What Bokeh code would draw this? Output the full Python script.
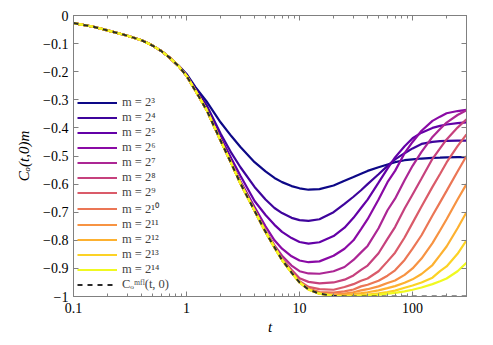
from bokeh.plotting import figure
from bokeh.models import (Range1d, LinearAxis, LogAxis, FixedTicker,
                          CustomJSTickFormatter, Legend, LegendItem)
from bokeh.embed import file_html
from bokeh.resources import INLINE

# ---------------- data ----------------
t = [0.1, 0.15, 0.2, 0.3, 0.4, 0.5, 0.6, 0.7, 0.85, 1, 1.2, 1.5, 2, 2.5, 3, 4, 5, 6, 7, 8.5, 10,
     12, 15, 20, 25, 30, 35, 40, 50, 60, 70, 85, 100, 120, 150, 175, 200, 250, 300]

m_2_3 = [-0.027, -0.040, -0.053, -0.072, -0.088, -0.107, -0.127, -0.148, -0.178,
         -0.208, -0.255, -0.305, -0.380, -0.430, -0.468, -0.522, -0.555, -0.578, -0.593, -0.607, -0.615,
         -0.620, -0.618, -0.605, -0.588, -0.575, -0.563, -0.553, -0.540, -0.530, -0.522, -0.515,
         -0.512, -0.509, -0.507, -0.506, -0.505, -0.504, -0.504]
m_2_4 = [-0.027, -0.040, -0.053, -0.072, -0.088, -0.107, -0.127, -0.148, -0.179,
         -0.212, -0.262, -0.318, -0.420, -0.490, -0.540, -0.610, -0.655, -0.685, -0.703, -0.720, -0.728,
         -0.731, -0.725, -0.700, -0.670, -0.645, -0.622, -0.600, -0.565, -0.535, -0.512, -0.490,
         -0.473, -0.457, -0.450, -0.447, -0.446, -0.445, -0.445]
m_2_5 = [-0.027, -0.040, -0.053, -0.072, -0.088, -0.107, -0.127, -0.148, -0.180,
         -0.214, -0.265, -0.330, -0.433, -0.510, -0.570, -0.660, -0.710, -0.745, -0.770, -0.792, -0.806,
         -0.812, -0.807, -0.785, -0.755, -0.720, -0.685, -0.655, -0.595, -0.545, -0.505, -0.465,
         -0.437, -0.417, -0.400, -0.393, -0.388, -0.383, -0.380]
m_2_6 = [-0.027, -0.040, -0.053, -0.072, -0.088, -0.107, -0.127, -0.148, -0.180,
         -0.215, -0.267, -0.335, -0.442, -0.525, -0.590, -0.682, -0.750, -0.800, -0.830, -0.857, -0.872,
         -0.878, -0.875, -0.855, -0.830, -0.800, -0.760, -0.725, -0.655, -0.593, -0.553, -0.490,
         -0.450, -0.410, -0.375, -0.360, -0.348, -0.340, -0.336]
m_2_7 = [-0.027, -0.040, -0.053, -0.072, -0.088, -0.107, -0.127, -0.148, -0.180,
         -0.215, -0.268, -0.335, -0.445, -0.527, -0.595, -0.690, -0.765, -0.818, -0.855, -0.890, -0.910,
         -0.918, -0.919, -0.910, -0.895, -0.870, -0.843, -0.820, -0.757, -0.693, -0.652, -0.586,
         -0.535, -0.485, -0.432, -0.404, -0.381, -0.354, -0.337]
m_2_8 = [-0.027, -0.040, -0.053, -0.072, -0.088, -0.107, -0.127, -0.148, -0.180,
         -0.215, -0.268, -0.335, -0.445, -0.528, -0.597, -0.694, -0.769, -0.823, -0.866, -0.905, -0.935,
         -0.948, -0.953, -0.950, -0.940, -0.925, -0.905, -0.890, -0.846, -0.795, -0.753, -0.687,
         -0.637, -0.580, -0.510, -0.473, -0.441, -0.399, -0.369]
m_2_9 = [-0.027, -0.040, -0.053, -0.072, -0.088, -0.107, -0.127, -0.148, -0.180,
         -0.215, -0.268, -0.335, -0.445, -0.528, -0.598, -0.695, -0.770, -0.825, -0.869, -0.912, -0.945,
         -0.966, -0.974, -0.976, -0.966, -0.956, -0.944, -0.936, -0.910, -0.875, -0.844, -0.790,
         -0.738, -0.680, -0.610, -0.564, -0.523, -0.465, -0.423]
m_2_10 = [-0.027, -0.040, -0.053, -0.072, -0.088, -0.107, -0.127, -0.148, -0.180,
          -0.215, -0.268, -0.335, -0.445, -0.528, -0.598, -0.695, -0.770, -0.825, -0.870, -0.915, -0.949,
          -0.972, -0.984, -0.986, -0.982, -0.975, -0.964, -0.958, -0.944, -0.926, -0.907, -0.870,
          -0.830, -0.782, -0.712, -0.665, -0.624, -0.555, -0.500]
m_2_11 = [-0.027, -0.040, -0.053, -0.072, -0.088, -0.107, -0.127, -0.148, -0.180,
          -0.215, -0.268, -0.335, -0.445, -0.528, -0.598, -0.695, -0.770, -0.825, -0.870, -0.915, -0.950,
          -0.975, -0.990, -0.993, -0.990, -0.985, -0.978, -0.974, -0.964, -0.952, -0.943, -0.923,
          -0.900, -0.865, -0.810, -0.765, -0.725, -0.655, -0.600]
m_2_12 = [-0.027, -0.040, -0.053, -0.072, -0.088, -0.107, -0.127, -0.148, -0.180,
          -0.215, -0.268, -0.335, -0.445, -0.528, -0.598, -0.695, -0.770, -0.825, -0.870, -0.915, -0.950,
          -0.975, -0.990, -0.997, -0.995, -0.991, -0.988, -0.985, -0.978, -0.970, -0.963, -0.951,
          -0.939, -0.920, -0.888, -0.853, -0.822, -0.757, -0.700]
m_2_13 = [-0.027, -0.040, -0.053, -0.072, -0.088, -0.107, -0.127, -0.148, -0.180,
          -0.215, -0.268, -0.335, -0.445, -0.528, -0.598, -0.695, -0.770, -0.825, -0.870, -0.915, -0.950,
          -0.975, -0.990, -0.998, -0.999, -0.997, -0.995, -0.993, -0.989, -0.984, -0.979, -0.969,
          -0.961, -0.950, -0.933, -0.910, -0.893, -0.848, -0.800]
m_2_14 = [-0.027, -0.040, -0.053, -0.072, -0.088, -0.107, -0.127, -0.148, -0.180,
          -0.215, -0.268, -0.335, -0.445, -0.528, -0.598, -0.695, -0.770, -0.825, -0.870, -0.915, -0.950,
          -0.975, -0.990, -0.998, -1.000, -0.999, -0.998, -0.997, -0.994, -0.990, -0.987, -0.982,
          -0.976, -0.968, -0.956, -0.946, -0.936, -0.910, -0.880]
c_mfl = [-0.027, -0.040, -0.053, -0.072, -0.088, -0.107, -0.127, -0.148, -0.180,
         -0.215, -0.268, -0.335, -0.445, -0.528, -0.598, -0.695, -0.770, -0.825, -0.870, -0.915, -0.950,
         -0.975, -0.990, -0.998, -1.000, -1.000, -1.000, -1.000, -1.000, -1.000, -1.000, -1.000,
         -1.000, -1.000, -1.000, -1.000, -1.000, -1.000, -1.000]

series = [m_2_3, m_2_4, m_2_5, m_2_6, m_2_7, m_2_8, m_2_9, m_2_10, m_2_11, m_2_12, m_2_13, m_2_14]
labels = ["m = 2³", "m = 2⁴", "m = 2⁵", "m = 2⁶", "m = 2⁷", "m = 2⁸", "m = 2⁹",
          "m = 2¹⁰", "m = 2¹¹", "m = 2¹²", "m = 2¹³", "m = 2¹⁴"]
mfl_label = "Cₒᵐᶠˡ(t, 0)"

x_ticks = [0.1, 1, 10, 100]
x_minor = [0.2, 0.3, 0.4, 0.5, 0.6, 0.7, 0.8, 0.9, 2, 3, 4, 5, 6, 7, 8, 9,
           20, 30, 40, 50, 60, 70, 80, 90, 200, 300]
y_ticks = [0, -0.1, -0.2, -0.3, -0.4, -0.5, -0.6, -0.7, -0.8, -0.9, -1.0]

# ---------------- styles ----------------
colors = ["#0d0887", "#3e049c", "#6300a7", "#8a0aa5", "#ac2694", "#c6417d",
          "#da5b69", "#eb7655", "#f79342", "#fdb130", "#fcd225", "#f0f921"]
FONT = "Liberation Serif"
GRAY = "#808080"

p = figure(width=485, height=337, x_axis_type="log",
           x_range=Range1d(0.1, 300), y_range=Range1d(-1.0, 0.0),
           output_backend="svg", toolbar_location=None,
           min_border_left=73, min_border_right=19, min_border_top=15, min_border_bottom=41)
p.xgrid.visible = False
p.ygrid.visible = False
p.outline_line_color = GRAY
p.outline_line_width = 1
p.background_fill_color = "white"
p.border_fill_color = "white"

xt = FixedTicker(ticks=x_ticks, minor_ticks=x_minor)
yt = FixedTicker(ticks=y_ticks, minor_ticks=[])
xfmt = CustomJSTickFormatter(code="return tick.toString();")
yfmt = CustomJSTickFormatter(code="""
if (Math.abs(tick) < 1e-9) return "0";
let s = Math.abs(tick).toFixed(1);
if (s.endsWith(".0")) s = s.slice(0, -2);
return "\\u2212" + s;
""")
empty = CustomJSTickFormatter(code="return '';")

def style_axis(ax, show_labels):
    ax.axis_line_color = GRAY
    ax.major_tick_line_color = GRAY
    ax.minor_tick_line_color = GRAY
    ax.major_tick_in = 5
    ax.major_tick_out = 0
    ax.minor_tick_in = 3
    ax.minor_tick_out = 0
    ax.major_label_text_font = FONT
    ax.major_label_text_font_size = "14px" if show_labels else "0px"
    ax.major_label_text_color = "black"
    ax.axis_label_text_font = FONT
    ax.axis_label_text_font_size = "15px"
    ax.axis_label_text_font_style = "italic"
    ax.axis_label_text_color = "black"

xa = p.xaxis[0]
xa.ticker = xt
xa.formatter = xfmt
style_axis(xa, True)
xa.major_label_standoff = 6
xa.axis_label = "t"
xa.axis_label_standoff = 3

ya = p.yaxis[0]
ya.ticker = yt
ya.formatter = yfmt
style_axis(ya, True)
ya.major_label_standoff = 5
ya.axis_label = "Cₒ(t,0)m"
ya.axis_label_standoff = 8
ya.minor_tick_in = 0

top = LogAxis(ticker=FixedTicker(ticks=x_ticks, minor_ticks=x_minor), formatter=empty)
style_axis(top, False)
top.major_label_standoff = 0
p.add_layout(top, "above")

right = LinearAxis(ticker=FixedTicker(ticks=y_ticks, minor_ticks=[]), formatter=empty)
style_axis(right, False)
right.minor_tick_in = 0
right.major_label_standoff = 0
p.add_layout(right, "right")

items = []
for ys, col, lab in zip(series, colors, labels):
    r = p.line(t, ys, line_color=col, line_width=2.2)
    items.append(LegendItem(label=lab, renderers=[r]))
rm = p.line(t, c_mfl, line_color="#2a2a2a", line_width=2.0, line_dash="5 5")
items.append(LegendItem(label=mfl_label, renderers=[rm]))

legend = Legend(items=items, location=(2, 2), glyph_width=40, glyph_height=13,
                label_height=13, spacing=0, padding=2, margin=0,
                label_text_font=FONT, label_text_font_size="12.5px",
                label_standoff=5, background_fill_alpha=0, border_line_alpha=0)
p.add_layout(legend)

open("out.html", "w").write(file_html(p, INLINE))
